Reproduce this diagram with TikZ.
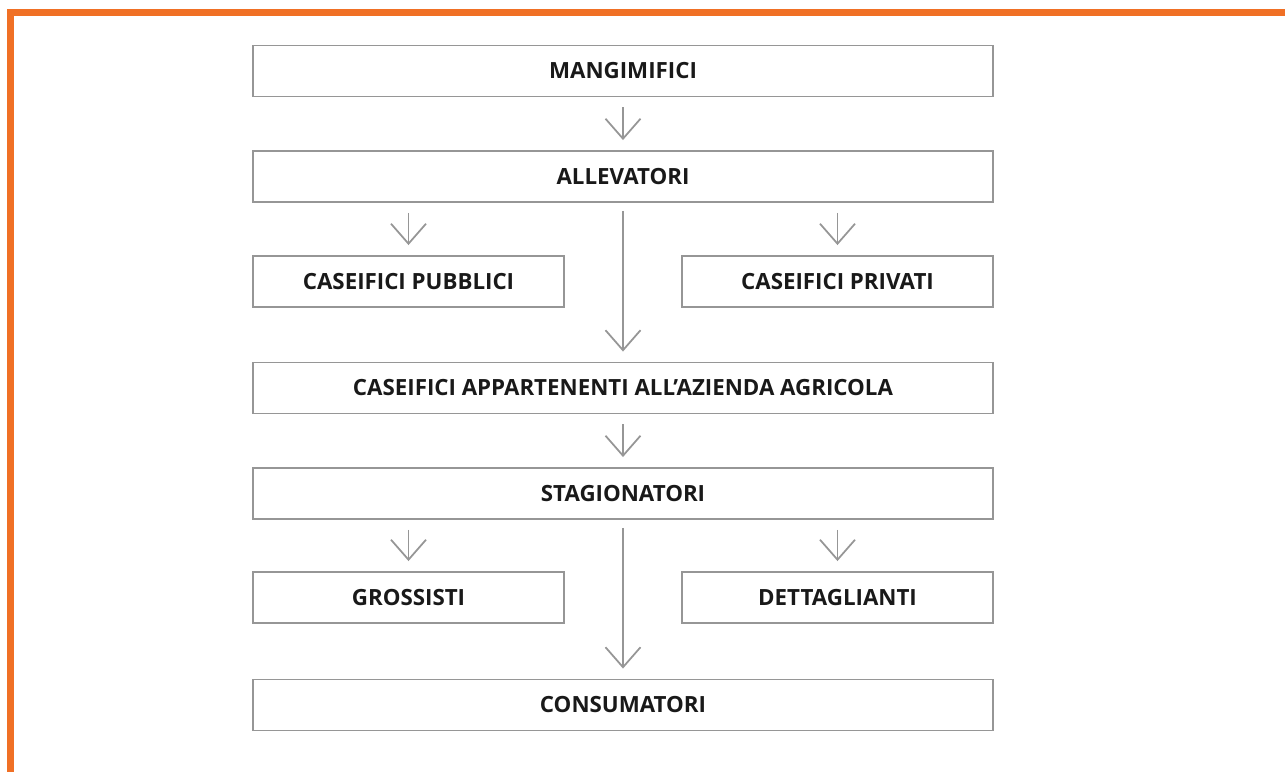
\documentclass[tikz,border=0pt]{standalone}
\usepackage{fontspec}
\setmainfont{Open Sans}
\usetikzlibrary{arrows.meta}
\definecolor{frameorange}{RGB}{240,112,37}
\definecolor{boxgray}{RGB}{150,150,150}
\tikzset{
  stepbox/.style={shape=rectangle, draw=boxgray, line width=1.1pt, minimum height=1.02cm, inner sep=0pt, font=\fontsize{12.7}{15}\selectfont\bfseries, text=black!90},
  widebox/.style={stepbox, minimum width=14.8cm},
  halfbox/.style={stepbox, minimum width=6.22cm},
  flow/.style={draw=boxgray, line width=1pt, -{Straight Barb[length=0.4cm, width=0.7cm, line width=1pt]}, shorten <=0.2cm, shorten >=0.2cm}
}
\begin{document}
\begin{tikzpicture}[x=0.02cm, y=-0.02cm]
                \useasboundingbox (0,0) rectangle (1285,772);
                \fill[frameorange] (7,9) rectangle (1285,16);
                \fill[frameorange] (7,9) rectangle (14,772);

                \node[widebox] (M) at (623, 71) {MANGIMIFICI};
                \node[widebox] (A) at (623, 176.5) {ALLEVATORI};
                \node[halfbox] (P) at (408.5, 281.5) {CASEIFICI PUBBLICI};
                \node[halfbox] (R) at (837.5, 281.5) {CASEIFICI PRIVATI};
                \node[widebox] (C) at (623, 388) {CASEIFICI APPARTENENTI ALL’AZIENDA AGRICOLA};
                \node[widebox] (S) at (623, 493.5) {STAGIONATORI};
                \node[halfbox] (G) at (408.5, 597.5) {GROSSISTI};
                \node[halfbox] (D) at (837.5, 597.5) {DETTAGLIANTI};
                \node[widebox] (K) at (623, 705) {CONSUMATORI};

                \path [flow] (M) edge (A);
                \draw [flow] (A.south -| P.north) -- (P.north);
                \draw [flow] (A.south -| R.north) -- (R.north);
                \path [flow, shorten <=0.16cm] (A) edge (C);
                \path [flow] (C) edge (S);
                \draw [flow] (S.south -| G.north) -- (G.north);
                \draw [flow] (S.south -| D.north) -- (D.north);
                \path [flow, shorten <=0.16cm] (S) edge (K);
            \end{tikzpicture}
\end{document}
